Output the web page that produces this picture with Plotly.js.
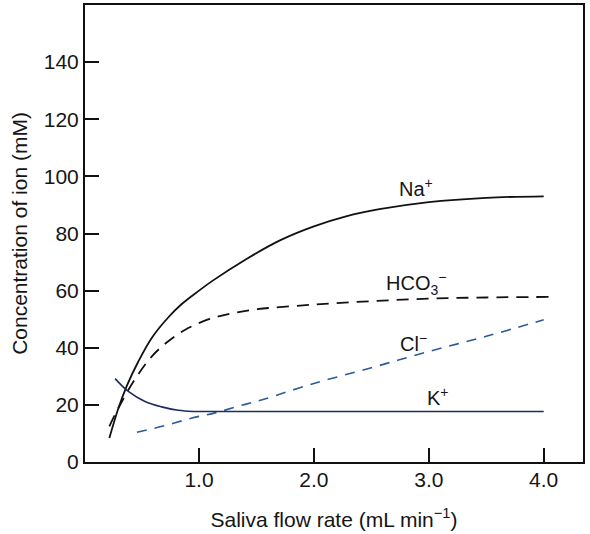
<!DOCTYPE html>
<html>
<head>
<meta charset="utf-8">
<script src="https://cdn.plot.ly/plotly-3.0.1.min.js"></script>
<style>html,body{margin:0;padding:0;background:#fff;}#chart{width:590px;height:534px;}</style>
</head>
<body>
<div id="chart"></div>
<script>
// Na+ (solid black)
var naX = [0.22, 0.30, 0.37, 0.47, 0.59, 0.73, 0.85, 1.0, 1.12, 1.41, 1.70, 2.0, 2.28, 2.57, 3.0, 3.5, 4.0];
var naY = [8.4, 19, 26.5, 35, 43.5, 50.5, 55.3, 60, 63.5, 71, 77.5, 82.5, 86, 88.5, 91, 92.5, 93];
// HCO3- (dashed black)
var hcoX = [0.22, 0.30, 0.44, 0.59, 0.73, 0.88, 1.08, 1.28, 1.51, 2.0, 2.5, 3.0, 3.5, 4.05];
var hcoY = [12.5, 19, 28.8, 37, 42.2, 46.3, 49.9, 52, 53.5, 55.1, 56.3, 57.2, 57.6, 57.8];
// Cl- (dashed blue)
var clX = [0.46, 0.70, 0.94, 1.14, 1.34, 1.55, 2.0, 2.5, 3.0, 3.5, 4.0];
var clY = [10.4, 12.7, 15.4, 17.2, 19.5, 21.8, 27.5, 33, 38.7, 44, 49.8];
// K+ (solid navy)
var kX = [0.27, 0.385, 0.53, 0.675, 0.82, 0.95, 1.2, 2.0, 3.0, 4.0];
var kY = [29.2, 24.7, 21.2, 19.3, 18.1, 17.7, 17.7, 17.7, 17.7, 17.7];

var yTicks = [0, 20, 40, 60, 80, 100, 120, 140];
var xTicks = [1, 2, 3, 4];
var xTickText = ["1.0", "2.0", "3.0", "4.0"];
var ionLabels = ["Na<sup>+</sup>", "HCO<sub>3</sub><sup>\u2212</sup>", "Cl<sup>\u2212</sup>", "K<sup>+</sup>"];
var labelX = [2.89, 2.89, 2.87, 3.08];
var labelY = [96, 62.5, 42, 23];

var FONT = "Liberation Sans, Arial, Helvetica, sans-serif";
var TXT = "#151515";
var FS = 21;
var traces = [
  {x: naX, y: naY, mode: "lines", line: {color: "#111111", width: 1.8, shape: "spline"}},
  {x: hcoX, y: hcoY, mode: "lines", line: {color: "#111111", width: 1.8, shape: "spline", dash: "12px,8px"}},
  {x: clX, y: clY, mode: "lines", line: {color: "#2b5b98", width: 1.6, shape: "spline", dash: "10px,8px"}},
  {x: kX, y: kY, mode: "lines", line: {color: "#1c2c5e", width: 1.6, shape: "spline"}}
];

var annotations = ionLabels.map(function (t, i) {
  return {x: labelX[i], y: labelY[i], xref: "x", yref: "y", text: t, showarrow: false,
          xanchor: "center", yanchor: "middle", font: {family: FONT, size: 20, color: TXT}};
});

var layout = {
  width: 590, height: 534,
  margin: {l: 85, r: 7, t: 5, b: 72},
  paper_bgcolor: "#ffffff", plot_bgcolor: "#ffffff",
  showlegend: false,
  font: {family: FONT, size: FS, color: TXT},
  xaxis: {
    range: [0.008, 4.342], showgrid: false, zeroline: false,
    showline: true, linecolor: "#111111", linewidth: 2, mirror: true,
    ticks: "inside", ticklen: 14, tickwidth: 2, tickcolor: "#111111",
    tickmode: "array", tickvals: xTicks, ticktext: xTickText,
    ticklabelstandoff: -2,
    tickfont: {family: FONT, size: FS, color: TXT},
    title: {text: "Saliva flow rate (mL min<sup>\u22121</sup>)", font: {family: FONT, size: FS, color: TXT}, standoff: 22}
  },
  yaxis: {
    range: [0, 160], showgrid: false, zeroline: false,
    showline: true, linecolor: "#111111", linewidth: 2, mirror: true,
    ticks: "inside", ticklen: 14, tickwidth: 2, tickcolor: "#111111",
    tickmode: "array", tickvals: yTicks,
    ticklabelstandoff: 0,
    tickfont: {family: FONT, size: FS, color: TXT},
    title: {text: "Concentration of ion (mM)", font: {family: FONT, size: FS, color: TXT}, standoff: 10}
  },
  annotations: annotations
};

Plotly.newPlot("chart", traces, layout, {displayModeBar: false, staticPlot: true});
</script>
</body>
</html>
